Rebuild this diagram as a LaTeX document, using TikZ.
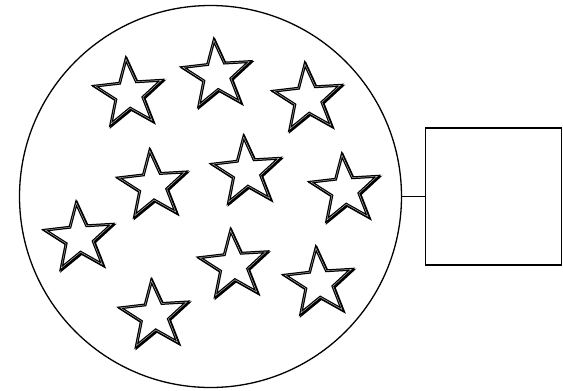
\documentclass[tikz,border=0pt]{standalone}
\usetikzlibrary{shapes.geometric}
\begin{document}
\begin{tikzpicture}[x=1pt,y=-1pt,
  starshape/.style={star, star points=5, star point ratio=2.45, minimum size=70pt, inner sep=0pt, outer sep=0pt, rotate=5},
  starbox/.style={starshape, draw=black, line width=1.25pt, double=gray!45, double distance=0.4pt, fill=white},
  starshadow/.style={starshape, draw=black, line width=2.9pt, fill=black},
  ring/.style={circle, draw=black, line width=1.3pt, minimum size=382pt, inner sep=0pt, outer sep=0pt},
  box/.style={rectangle, draw=black, line width=1.8pt, minimum width=136pt, minimum height=137pt, inner sep=0pt, outer sep=0pt},
  link/.style={draw=black, line width=1.3pt}]
\useasboundingbox (0,0) rectangle (563,391);
\node[ring] (c) at (210.5,196.5) {};
\node[box] (r) at (493.5,196.5) {};
\draw[link] (c.east) -- (r.west);
\foreach \i/\x/\y in {1/129/94, 2/217/75.3, 3/308/99, 4/152.8/185.7, 5/246.7/172, 6/345/190, 7/79.3/238, 8/233.7/265.5, 9/319/283, 10/154.5/315.7} {
  \node[starshadow] (sh\i) at (\x+1.1,\y+1.1) {};
  \node[starbox] (s\i) at (\x,\y) {};
}
\end{tikzpicture}
\end{document}
